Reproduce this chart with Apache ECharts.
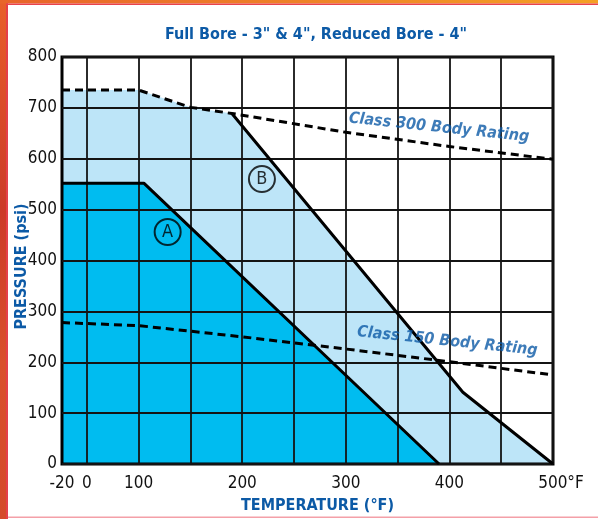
<!DOCTYPE html>
<html><head><meta charset="utf-8">
<script src="https://cdn.jsdelivr.net/npm/echarts@6/dist/echarts.min.js"></script>
<style>html,body{margin:0;padding:0;background:#fff}#c{width:598px;height:519px}</style>
</head><body><div id="c"></div>
<script>
// Temperature tick labels (°F) and gridline temperatures
const tempTicks = [-20, 0, 100, 200, 300, 400, 500];
const gridTemps = [0, 100, 150, 200, 250, 300, 350, 400, 450, 500];
// Pressure rating curves [temperature °F, pressure psi]
const curveA = [[-20, 552], [105, 552], [390, 0]];
const curveB = [[-20, 735], [100, 735], [150, 701], [190, 689], [413, 141], [500, 0]];
const curveBSolid = [[190, 689], [413, 141], [500, 0]];
const class300 = [[-20, 735], [100, 735], [150, 701], [190, 689], [300, 652], [400, 624], [500, 599]];
const class150 = [[-20, 278], [100, 272], [200, 250], [300, 226], [400, 201], [500, 175]];
// Annotations
const markA = [128, 456];
const markB = [219, 560];
const label300 = [390, 661];
const label150 = [398, 241];

// The chart's temperature scale is broken below 100°F: knots of the scale
const scaleKnots = [[-20, 26], [0, 50], [100, 100], [500, 500]];
function toPos(t) {
  for (let i = 1; i < scaleKnots.length; i++) {
    const [t0, p0] = scaleKnots[i - 1], [t1, p1] = scaleKnots[i];
    if (t <= t1) return p0 + (t - t0) * (p1 - p0) / (t1 - t0);
  }
  return t;
}
const mapPts = arr => arr.map(([t, p]) => [toPos(t), p]);
const labelPositions = tempTicks.map(toPos);

const FONT = '"DejaVu Sans Condensed", "Liberation Sans", sans-serif';
const BLUE = '#0C5AA6';

const chart = echarts.init(document.getElementById('c'));
chart.setOption({
  animation: false,
  backgroundColor: '#fff',
  title: {
    text: 'Full Bore - 3" & 4", Reduced Bore - 4"',
    left: 311, top: 22, textAlign: 'center',
    textStyle: { fontFamily: FONT, fontWeight: 'bold', fontSize: 16, color: BLUE }
  },
  grid: { left: 62, right: 45, top: 57, bottom: 55, outerBoundsMode: 'none', containLabel: false,
    show: true, borderColor: '#000', borderWidth: 3, backgroundColor: 'transparent' },
  xAxis: {
    type: 'value', min: toPos(-20), max: 500,
    name: 'TEMPERATURE (°F)', nameLocation: 'middle', nameGap: 34,
    nameTextStyle: { fontFamily: FONT, fontWeight: 'bold', fontSize: 16, color: BLUE, padding: [0, 0, 0, 20] },
    axisLine: { show: false },
    axisTick: { show: false, customValues: gridTemps.map(toPos) },
    splitLine: { show: true, lineStyle: { color: '#141414', width: 1.8 } },
    axisLabel: {
      customValues: labelPositions, margin: 11,
      fontFamily: FONT, fontSize: 17, color: '#111',
      rich: { p: { width: 16 } },
      formatter: v => {
        const i = labelPositions.findIndex(p => Math.abs(p - v) < 0.01);
        if (i < 0) return '';
        const t = tempTicks[i];
        return t === 500 ? '{p|}500°F' : String(t);
      }
    }
  },
  yAxis: {
    type: 'value', min: 0, max: 800, interval: 100,
    name: 'PRESSURE (psi)', nameLocation: 'middle', nameGap: 32, nameRotate: 90, nameMoveOverlap: false,
    nameTextStyle: { fontFamily: FONT, fontWeight: 'bold', fontSize: 16, color: BLUE, padding: [0, 12, 0, 0] },
    axisLine: { show: false }, axisTick: { show: false },
    splitLine: { show: true, lineStyle: { color: '#141414', width: 1.8 } },
    axisLabel: { margin: 5, fontFamily: FONT, fontSize: 17, color: '#111' }
  },
  series: [
    { type: 'line', data: mapPts(curveB), symbol: 'none', z: -2,
      lineStyle: { width: 0 }, areaStyle: { color: '#BDE5F8', opacity: 1 } },
    { type: 'line', data: mapPts(curveA), symbol: 'none', z: -1,
      lineStyle: { width: 0 }, areaStyle: { color: '#00BCF0', opacity: 1 } },
    { type: 'line', data: mapPts(curveA), symbol: 'none', z: 3,
      lineStyle: { color: '#000', width: 3 } },
    { type: 'line', data: mapPts(curveBSolid), symbol: 'none', z: 3,
      lineStyle: { color: '#000', width: 3 } },
    { type: 'line', data: mapPts(class300), symbol: 'none', z: 3,
      lineStyle: { color: '#000', width: 3, type: [8, 5] } },
    { type: 'line', data: mapPts(class150), symbol: 'none', z: 3,
      lineStyle: { color: '#000', width: 3, type: [8, 5] } },
    { type: 'scatter', z: 4, symbol: 'circle', symbolSize: 26,
      data: [
        { value: mapPts([markA])[0], name: 'A' },
        { value: mapPts([markB])[0], name: 'B' }
      ],
      itemStyle: { color: 'rgba(0,0,0,0)', borderColor: '#000', borderWidth: 2 },
      label: { show: true, position: 'inside', formatter: p => p.name,
        fontFamily: FONT, fontSize: 18, color: '#000' } },
    { type: 'scatter', z: 4, symbolSize: 0,
      data: [
        { value: mapPts([label300])[0], name: 'Class 300 Body Rating' },
        { value: mapPts([label150])[0], name: 'Class 150 Body Rating' }
      ],
      label: { show: true, position: 'inside', rotate: -6, formatter: p => p.name,
        fontFamily: FONT, fontSize: 16, fontWeight: 'bold', fontStyle: 'oblique', color: BLUE } }
  ],
  graphic: [
    { type: 'rect', shape: { x: 0, y: 0, width: 6, height: 519 }, silent: true,
      style: { fill: new echarts.graphic.LinearGradient(0, 0, 0, 1, [
        { offset: 0, color: '#E8602A' }, { offset: 0.4, color: '#CC3A28' },
        { offset: 0.7, color: '#D9502C' }, { offset: 1, color: '#D44A2A' }]) } },
    { type: 'rect', shape: { x: 6, y: 0, width: 2, height: 519 }, silent: true, style: { fill: '#E5404A' } },
    { type: 'rect', shape: { x: 0, y: 0, width: 598, height: 3.5 }, silent: true,
      style: { fill: new echarts.graphic.LinearGradient(0, 0, 1, 0, [
        { offset: 0, color: '#E8642A' }, { offset: 1, color: '#F4A024' }]) } },
    { type: 'rect', shape: { x: 6, y: 3.5, width: 592, height: 1.6 }, silent: true, style: { fill: '#E8424C' } },
    { type: 'rect', shape: { x: 8, y: 516.5, width: 590, height: 1.5 }, silent: true, style: { fill: '#F4A0A8' } }
  ]
});
</script></body></html>
